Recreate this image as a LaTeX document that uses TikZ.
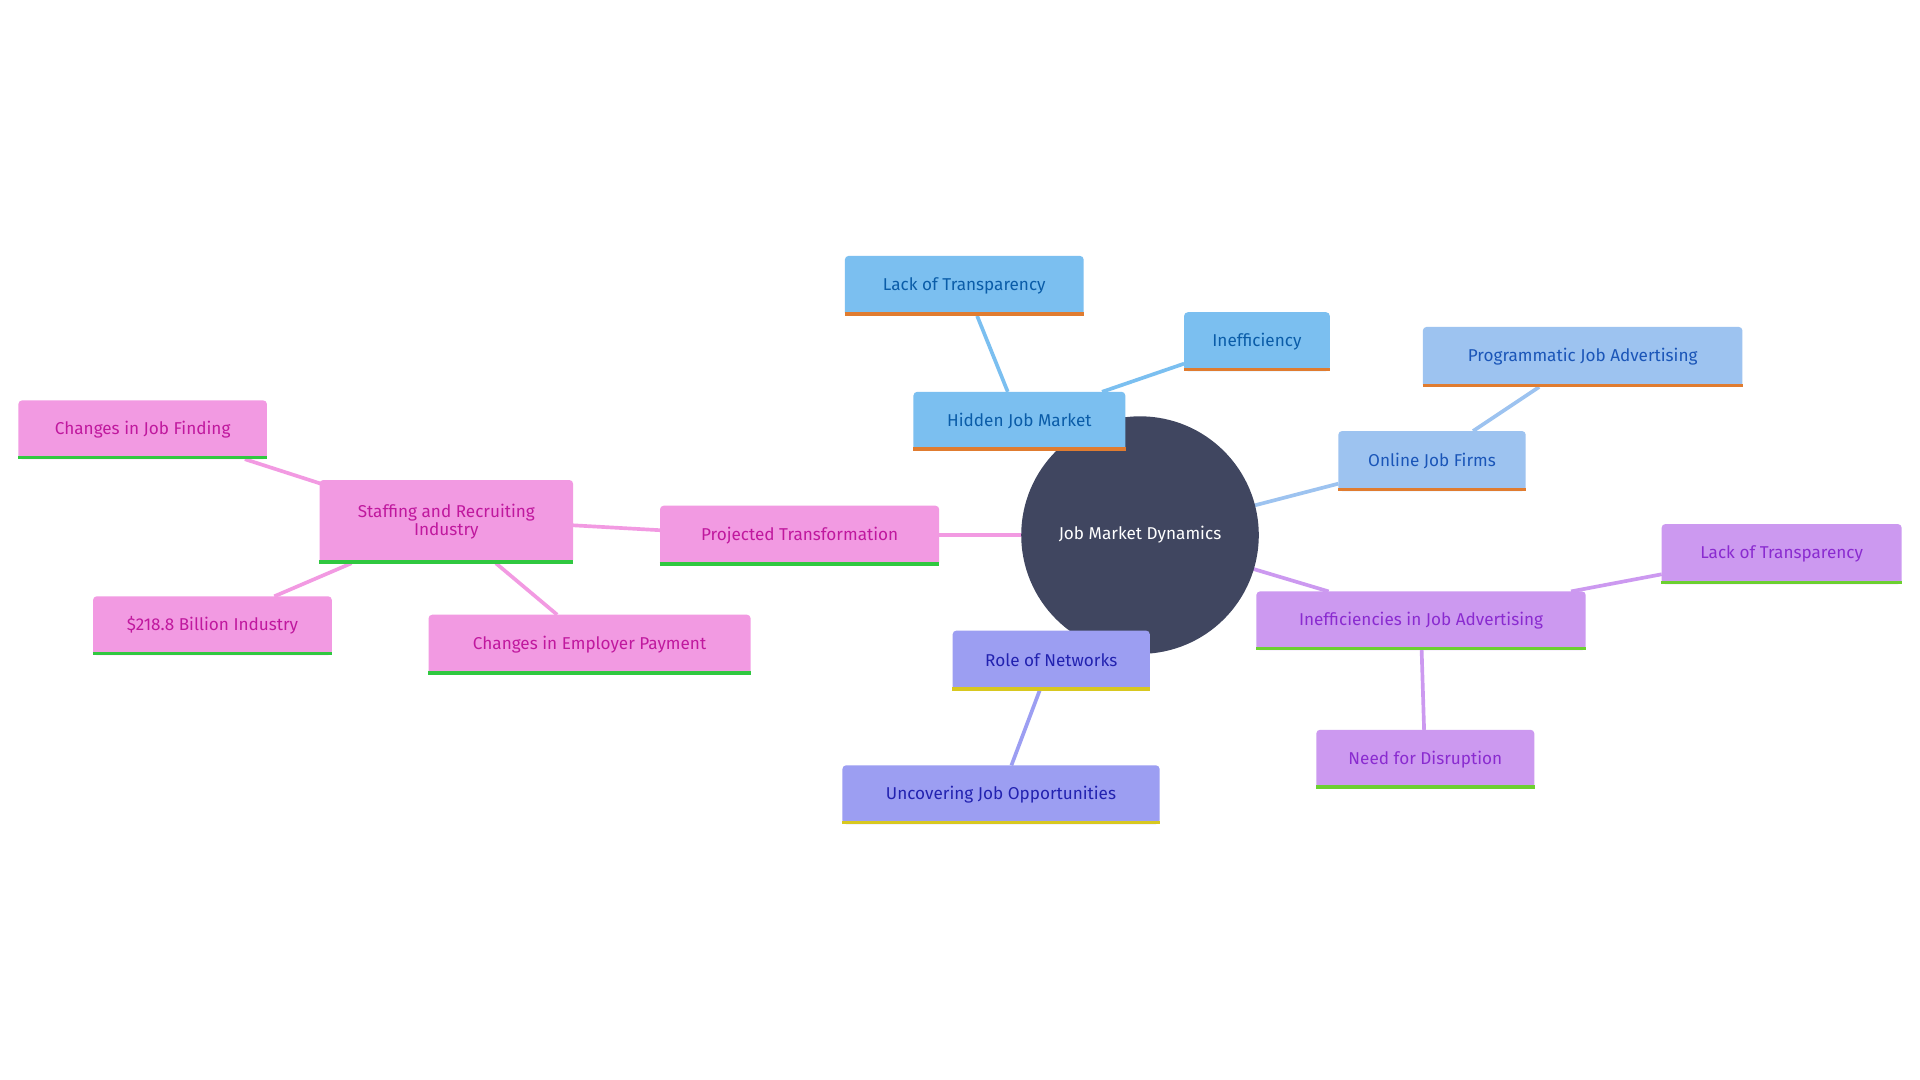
\documentclass[tikz,border=0pt]{standalone}
\usepackage{fontspec}
\setmainfont{Fira Sans}
\definecolor{bfill}{HTML}{7BBFF0}\definecolor{btext}{HTML}{0A5CA8}
\definecolor{lfill}{HTML}{9DC3F0}\definecolor{ltext}{HTML}{1A55B8}
\definecolor{pfill}{HTML}{CC99F0}\definecolor{ptext}{HTML}{8A2BD0}
\definecolor{ifill}{HTML}{9C9EF2}\definecolor{itext}{HTML}{2222B0}
\definecolor{kfill}{HTML}{F29AE2}\definecolor{ktext}{HTML}{C0189E}
\definecolor{orl}{HTML}{E07C30}\definecolor{grl}{HTML}{30C840}
\definecolor{gpl}{HTML}{6CD030}\definecolor{yel}{HTML}{D8C820}
\definecolor{hub}{HTML}{404660}
\begin{document}
\begin{tikzpicture}[x=1pt,y=-1pt,
 box/.style={rectangle,rounded corners=3pt,inner sep=0pt,align=center,font=\fontsize{14}{15}\selectfont},
 bluebox/.style={box,fill=bfill,text=btext},
 lbox/.style={box,fill=lfill,text=ltext},
 pbox/.style={box,fill=pfill,text=ptext},
 ibox/.style={box,fill=ifill,text=itext},
 kbox/.style={box,fill=kfill,text=ktext},
 ln/.style={line width=3pt},
 bl/.style={line width=3pt}]
\useasboundingbox[fill=white] (0,0) rectangle (1568,882);
\def\bx#1#2#3#4#5#6#7{\node[#2,minimum width=#5-#3,minimum height=#6-#4] (#1) at ({(#3+#5)/2},{(#4+#6)/2}) {#7};}
% edges
\coordinate (c) at (931,437);
\draw[ln,bfill] (823,320) -- (798,258);
\draw[ln,bfill] (900,320) -- (967,297);
\draw[ln,lfill] (c) -- (1093,395);
\draw[ln,lfill] (1203,352) -- (1257,316);
\draw[ln,pfill] (c) -- (1085,483);
\draw[ln,pfill] (1283,483) -- (1357,469);
\draw[ln,pfill] (1161,531) -- (1163,596);
\draw[ln,ifill] (849,564) -- (826,625);
\draw[ln,kfill] (c) -- (767,437);
\draw[ln,kfill] (539,433) -- (468,429);
\draw[ln,kfill] (262,395) -- (200,375);
\draw[ln,kfill] (287,460) -- (224,487);
\draw[ln,kfill] (405,460) -- (455,502);
\node[circle,fill=hub,minimum size=194pt,text=white,font=\fontsize{14}{15}\selectfont] (hubn) at (c) {Job Market Dynamics};
\bx{hid}{bluebox}{746}{320}{919}{368}{Hidden Job Market}
\bx{lt}{bluebox}{690}{209}{885}{258}{Lack of Transparency}
\bx{ine}{bluebox}{967}{255}{1086}{303}{Inefficiency}
\bx{ojf}{lbox}{1093}{352}{1246}{401}{Online Job Firms}
\bx{pja}{lbox}{1162}{267}{1423}{316}{Programmatic Job Advertising}
\bx{ija}{pbox}{1026}{483}{1295}{531}{Inefficiencies in Job Advertising}
\bx{lt2}{pbox}{1357}{428}{1553}{477}{Lack of Transparency}
\bx{nfd}{pbox}{1075}{596}{1253}{644}{Need for Disruption}
\bx{ron}{ibox}{778}{515}{939}{564}{Role of Networks}
\bx{ujo}{ibox}{688}{625}{947}{673}{Uncovering Job Opportunities}
\bx{pt}{kbox}{539}{413}{767}{462}{Projected Transformation}
\bx{sri}{kbox}{261}{392}{468}{460}{Staffing and Recruiting\\Industry}
\bx{cjf}{kbox}{15}{327}{218}{375}{Changes in Job Finding}
\bx{bil}{kbox}{76}{487}{271}{535}{\$218.8 Billion Industry}
\bx{cep}{kbox}{350}{502}{613}{551}{Changes in Employer Payment}
\foreach \n/\c in {hid/orl,lt/orl,ine/orl,ojf/orl,pja/orl,ija/gpl,lt2/gpl,nfd/gpl,ron/yel,ujo/yel,pt/grl,sri/grl,cjf/grl,bil/grl,cep/grl}
  \draw[bl,\c] ([yshift=1.5pt]\n.south west) -- ([yshift=1.5pt]\n.south east);
\end{tikzpicture}
\end{document}
